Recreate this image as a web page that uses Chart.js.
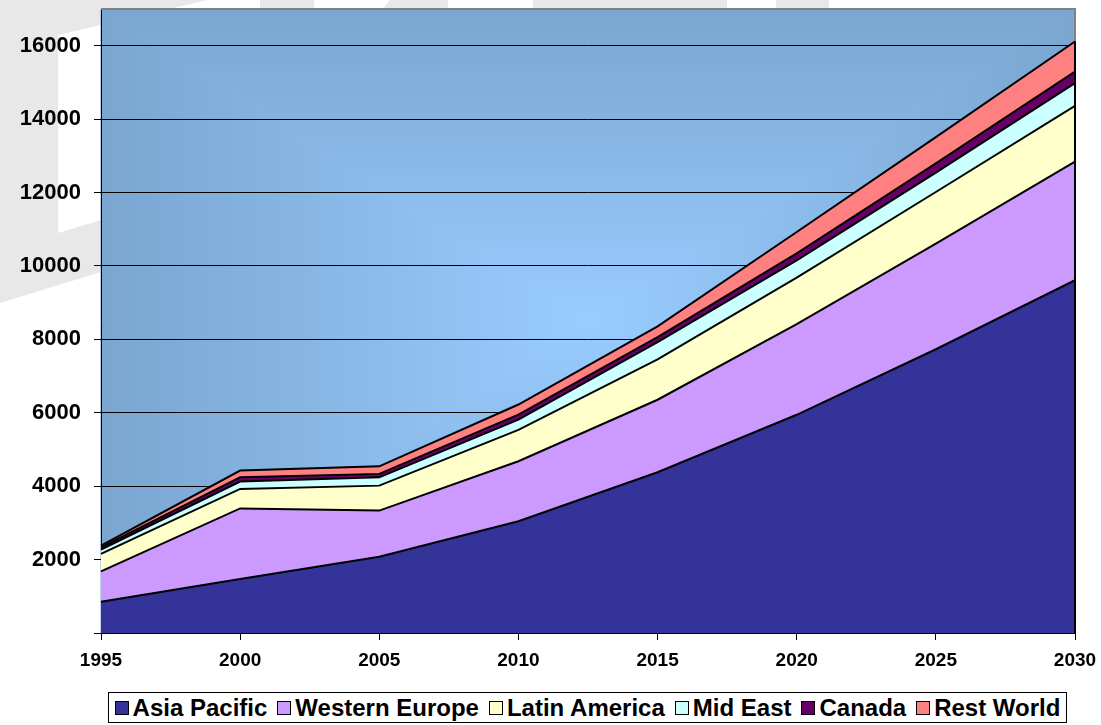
<!DOCTYPE html>
<html>
<head>
<meta charset="utf-8">
<title>Regional growth 1995-2030</title>
<script src="https://cdn.jsdelivr.net/npm/chart.js@4.4.1/dist/chart.umd.min.js"></script>
<style>
    html, body { margin: 0; padding: 0; background: #fff; }
    #wrap { position: relative; width: 1101px; height: 725px; }
    #legend {
        position: absolute; left: 108px; top: 692px; width: 957px; height: 29px;
        border: 1px solid #000; background: #fff;
        display: flex; align-items: center; justify-content: center;
        font: bold 24px "Liberation Sans", Arial, sans-serif; color: #000; white-space: nowrap;
    }
    .item { display: flex; align-items: center; margin: 0 5px; }
    .swatch { width: 12px; height: 12px; border: 1px solid #000; margin-right: 4px; }
</style>
</head>
<body>
<div id="wrap">
    <canvas id="regionChart"></canvas>
    <div id="legend"></div>
</div>
<script>
// Datos por región (apilados)
const years = ['1995', '2000', '2005', '2010', '2015', '2020', '2025', '2030'];
const asiaPacific   = [850, 1470, 2080, 3045, 4380, 5945, 7730, 9610];
const westernEurope = [830, 1925, 1255, 1635, 1975, 2470, 2875, 3230];
const latinAmerica  = [475, 530, 680, 855, 1100, 1265, 1410, 1520];
const midEast       = [115, 200, 225, 280, 470, 470, 525, 620];
const canada        = [65, 115, 95, 135, 135, 195, 255, 315];
const restWorld     = [45, 185, 205, 275, 295, 580, 715, 820];

const seriesNames = ['Asia Pacific', 'Western Europe', 'Latin America', 'Mid East', 'Canada', 'Rest World'];
const seriesData = [asiaPacific, westernEurope, latinAmerica, midEast, canada, restWorld];
const seriesColors = ['#333399', '#cc99ff', '#ffffcc', '#ccffff', '#660066', '#ff8080'];

const yTicks = [0, 2000, 4000, 6000, 8000, 10000, 12000, 14000, 16000];
const yMax = 17000;

const fontFamily = '"Liberation Sans", Arial, sans-serif';

// Fondo: marca gris clara y degradado rectangular desde el centro del área
const backdrop = {
    id: 'backdrop',
    beforeDraw(chart) {
        const ctx = chart.ctx;
        const a = chart.chartArea;
        ctx.save();
        ctx.fillStyle = '#fff';
        ctx.fillRect(0, 0, chart.width, chart.height);

        ctx.fillStyle = '#e8e8e8';
        ctx.beginPath();
        ctx.moveTo(0, 0); ctx.lineTo(207, 0); ctx.lineTo(101, 25);
        ctx.lineTo(101, 272); ctx.lineTo(0, 303); ctx.closePath();
        ctx.fill();
        [[260, 314], [390, 448], [533, 727], [776, 829]].forEach(([x0, x1]) => {
            ctx.fillRect(x0, 0, x1 - x0, 20);
        });
        ctx.beginPath();
        ctx.moveTo(390, 0); ctx.lineTo(374, 20); ctx.lineTo(390, 20); ctx.closePath();
        ctx.fill();
        ctx.fillStyle = '#fff';
        ctx.beginPath();
        ctx.moveTo(58, 35); ctx.lineTo(101, 25); ctx.lineTo(101, 220); ctx.lineTo(58, 233);
        ctx.closePath();
        ctx.fill();

        const cx = (a.left + a.right) / 2, cy = (a.top + a.bottom) / 2;
        const corners = [[a.left, a.top], [a.right, a.top], [a.right, a.bottom], [a.left, a.bottom]];
        const edges = [[cx, a.top], [a.right, cy], [cx, a.bottom], [a.left, cy]];
        for (let i = 0; i < 4; i++) {
            const p1 = corners[i], p2 = corners[(i + 1) % 4];
            const g = ctx.createLinearGradient(cx, cy, edges[i][0], edges[i][1]);
            g.addColorStop(0, '#99ccff');
            g.addColorStop(1, '#7aa6d0');
            ctx.beginPath();
            ctx.moveTo(cx, cy); ctx.lineTo(p1[0], p1[1]); ctx.lineTo(p2[0], p2[1]);
            ctx.closePath();
            ctx.fillStyle = g;
            ctx.strokeStyle = g;
            ctx.lineWidth = 1;
            ctx.fill();
            ctx.stroke();
        }
        ctx.restore();
    },
    beforeDatasetsDraw(chart) {
        const ctx = chart.ctx;
        const a = chart.chartArea;
        ctx.save();
        ctx.strokeStyle = '#808080';
        ctx.lineWidth = 2;
        ctx.beginPath();
        ctx.moveTo(a.left, a.top);
        ctx.lineTo(a.right, a.top);
        ctx.lineTo(a.right, a.bottom);
        ctx.stroke();
        ctx.restore();
    },
    afterDatasetsDraw(chart) {
        // borde derecho de las áreas apiladas
        const ctx = chart.ctx;
        const a = chart.chartArea;
        const last = years.length - 1;
        const total = seriesData.reduce((s, d) => s + d[last], 0);
        const yTop = chart.scales.y.getPixelForValue(total);
        ctx.save();
        ctx.strokeStyle = '#000';
        ctx.lineWidth = 2;
        ctx.beginPath();
        ctx.moveTo(a.right, yTop);
        ctx.lineTo(a.right, a.bottom);
        ctx.stroke();
        ctx.restore();
    }
};

const regionChart = new Chart(document.getElementById('regionChart'), {
    type: 'line',
    data: {
        labels: years,
        datasets: seriesNames.map((name, i) => ({
            label: name,
            data: seriesData[i],
            backgroundColor: seriesColors[i],
            borderColor: '#000',
            borderWidth: 2,
            fill: i === 0 ? 'origin' : '-1',
            pointRadius: 0,
            tension: 0
        }))
    },
    options: {
        responsive: true,
        maintainAspectRatio: false,
        animation: false,
        layout: { padding: { top: 9, right: 26, left: 0, bottom: 0 } },
        plugins: {
            legend: { display: false },
            tooltip: { enabled: false }
        },
        scales: {
            x: {
                offset: false,
                grid: { drawOnChartArea: false, color: '#000', tickLength: 7 },
                border: { color: '#000', width: 1 },
                ticks: {
                    color: '#000', padding: 9, maxRotation: 0, autoSkip: false,
                    font: { family: fontFamily, size: 19, weight: 'bold' }
                },
                afterFit: s => {
                    s.height = 92;
                    s.paddingLeft = 0;
                    s.paddingRight = 0;
                }
            },
            y: {
                stacked: true,
                min: 0,
                max: yMax,
                grid: { color: '#000', tickLength: 7 },
                border: { color: '#000', width: 1 },
                ticks: {
                    color: '#000', padding: 13,
                    font: { family: fontFamily, size: 22, weight: 'bold' },
                    callback: v => (v === 0 ? '' : String(v))
                },
                afterBuildTicks: s => { s.ticks = yTicks.map(v => ({ value: v })); },
                afterFit: s => {
                    s.width = 101;
                    s.paddingTop = 0;
                    s.paddingBottom = 0;
                }
            }
        }
    },
    plugins: [backdrop]
});

// Leyenda
const legendEl = document.getElementById('legend');
seriesNames.forEach((name, i) => {
    const item = document.createElement('span');
    item.className = 'item';
    const sw = document.createElement('span');
    sw.className = 'swatch';
    sw.style.background = seriesColors[i];
    item.appendChild(sw);
    item.appendChild(document.createTextNode(name));
    legendEl.appendChild(item);
});
</script>
</body>
</html>
